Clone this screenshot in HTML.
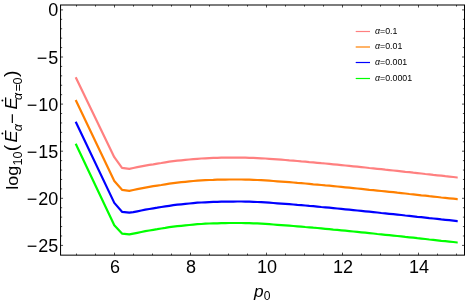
<!DOCTYPE html>
<html><head><meta charset="utf-8"><style>
html,body{margin:0;padding:0;background:#fff;}
svg{display:block;}
text{font-family:"Liberation Sans",sans-serif;fill:#000;}
.tk{font-size:18px;}
.lg{font-size:8.8px;}
.ax{font-size:17.3px;}
.sub{font-size:12.1px;}
.par{font-size:18.6px;}
</style></head><body>
<svg width="465" height="302" viewBox="0 0 465 302">
<defs><filter id="gr" x="0" y="0" width="100%" height="100%" filterUnits="userSpaceOnUse" color-interpolation-filters="sRGB"><feColorMatrix type="saturate" values="0"/></filter></defs>
<rect width="465" height="302" fill="#fff"/>
<polyline points="75.7,77.2 114.3,157.2 122.0,167.8 129.3,168.8 133.3,168.0 137.3,167.2 141.3,166.4 145.3,165.6 149.3,164.9 153.3,164.3 157.3,163.6 161.3,163.0 165.3,162.3 169.3,161.7 173.3,161.2 177.3,160.7 181.3,160.3 185.3,159.9 189.3,159.5 193.3,159.1 197.3,158.8 201.3,158.5 205.3,158.3 209.3,158.1 213.3,157.9 217.3,157.8 221.3,157.7 225.3,157.7 229.3,157.6 233.3,157.6 237.3,157.6 241.3,157.6 245.3,157.7 249.3,157.8 253.3,157.9 257.3,158.1 261.3,158.3 265.3,158.5 269.3,158.8 273.3,159.1 277.3,159.4 281.3,159.7 285.3,160.0 289.3,160.4 293.3,160.7 297.3,161.0 301.3,161.4 305.3,161.7 309.3,162.1 313.3,162.4 317.3,162.8 321.3,163.2 325.3,163.5 329.3,163.9 333.3,164.3 337.3,164.7 341.3,165.1 345.3,165.5 349.3,165.9 353.3,166.3 357.3,166.7 361.3,167.1 365.3,167.5 369.3,168.0 373.3,168.4 377.3,168.8 381.3,169.2 385.3,169.7 389.3,170.1 393.3,170.5 397.3,170.9 401.3,171.3 405.3,171.8 409.3,172.2 413.3,172.7 417.3,173.1 421.3,173.5 425.3,174.0 429.3,174.4 433.3,174.9 437.3,175.3 441.3,175.7 445.3,176.2 449.3,176.6 453.3,177.0 457.3,177.5 457.7,177.5" fill="none" stroke="#FF8080" stroke-width="2.2" stroke-linejoin="round"/>
<polyline points="75.7,100.0 114.3,181.0 122.0,189.8 129.3,190.8 133.3,190.0 137.3,189.2 141.3,188.4 145.3,187.6 149.3,186.9 153.3,186.2 157.3,185.6 161.3,185.0 165.3,184.3 169.3,183.7 173.3,183.1 177.3,182.6 181.3,182.2 185.3,181.8 189.3,181.4 193.3,181.0 197.3,180.7 201.3,180.4 205.3,180.2 209.3,180.0 213.3,179.9 217.3,179.7 221.3,179.6 225.3,179.6 229.3,179.5 233.3,179.5 237.3,179.5 241.3,179.5 245.3,179.6 249.3,179.7 253.3,179.8 257.3,180.0 261.3,180.1 265.3,180.4 269.3,180.7 273.3,181.0 277.3,181.3 281.3,181.6 285.3,181.9 289.3,182.2 293.3,182.5 297.3,182.9 301.3,183.2 305.3,183.5 309.3,183.9 313.3,184.3 317.3,184.6 321.3,185.0 325.3,185.4 329.3,185.7 333.3,186.1 337.3,186.5 341.3,186.9 345.3,187.3 349.3,187.7 353.3,188.1 357.3,188.5 361.3,188.9 365.3,189.3 369.3,189.8 373.3,190.2 377.3,190.6 381.3,191.0 385.3,191.4 389.3,191.8 393.3,192.2 397.3,192.7 401.3,193.1 405.3,193.5 409.3,194.0 413.3,194.4 417.3,194.8 421.3,195.3 425.3,195.7 429.3,196.2 433.3,196.6 437.3,197.0 441.3,197.5 445.3,197.9 449.3,198.3 453.3,198.7 457.3,199.2 457.7,199.2" fill="none" stroke="#FF8000" stroke-width="2.2" stroke-linejoin="round"/>
<polyline points="75.7,121.7 114.3,202.9 122.0,211.8 129.3,212.7 133.3,212.1 137.3,211.3 141.3,210.5 145.3,209.7 149.3,209.0 153.3,208.3 157.3,207.7 161.3,207.0 165.3,206.4 169.3,205.8 173.3,205.2 177.3,204.7 181.3,204.3 185.3,203.9 189.3,203.5 193.3,203.1 197.3,202.7 201.3,202.5 205.3,202.3 209.3,202.1 213.3,201.9 217.3,201.8 221.3,201.7 225.3,201.6 229.3,201.6 233.3,201.6 237.3,201.5 241.3,201.5 245.3,201.6 249.3,201.7 253.3,201.8 257.3,202.0 261.3,202.2 265.3,202.4 269.3,202.7 273.3,203.0 277.3,203.3 281.3,203.6 285.3,203.9 289.3,204.2 293.3,204.5 297.3,204.9 301.3,205.2 305.3,205.5 309.3,205.9 313.3,206.2 317.3,206.6 321.3,207.0 325.3,207.3 329.3,207.7 333.3,208.1 337.3,208.5 341.3,208.9 345.3,209.3 349.3,209.7 353.3,210.1 357.3,210.5 361.3,210.9 365.3,211.3 369.3,211.7 373.3,212.1 377.3,212.5 381.3,213.0 385.3,213.4 389.3,213.8 393.3,214.2 397.3,214.6 401.3,215.0 405.3,215.5 409.3,215.9 413.3,216.3 417.3,216.8 421.3,217.2 425.3,217.6 429.3,218.1 433.3,218.5 437.3,218.9 441.3,219.4 445.3,219.8 449.3,220.2 453.3,220.6 457.3,221.1 457.7,221.1" fill="none" stroke="#0000FF" stroke-width="2.2" stroke-linejoin="round"/>
<polyline points="75.7,143.7 114.3,225.3 122.0,233.6 129.3,234.4 133.3,233.6 137.3,232.8 141.3,232.0 145.3,231.2 149.3,230.5 153.3,229.8 157.3,229.2 161.3,228.5 165.3,227.9 169.3,227.2 173.3,226.7 177.3,226.2 181.3,225.8 185.3,225.4 189.3,225.0 193.3,224.6 197.3,224.2 201.3,224.0 205.3,223.7 209.3,223.5 213.3,223.4 217.3,223.3 221.3,223.1 225.3,223.1 229.3,223.0 233.3,223.0 237.3,223.0 241.3,223.0 245.3,223.1 249.3,223.2 253.3,223.3 257.3,223.4 261.3,223.6 265.3,223.9 269.3,224.2 273.3,224.5 277.3,224.8 281.3,225.1 285.3,225.4 289.3,225.7 293.3,226.0 297.3,226.3 301.3,226.6 305.3,227.0 309.3,227.3 313.3,227.7 317.3,228.0 321.3,228.4 325.3,228.8 329.3,229.2 333.3,229.6 337.3,229.9 341.3,230.3 345.3,230.7 349.3,231.1 353.3,231.5 357.3,231.9 361.3,232.3 365.3,232.7 369.3,233.1 373.3,233.5 377.3,234.0 381.3,234.4 385.3,234.8 389.3,235.2 393.3,235.6 397.3,236.0 401.3,236.4 405.3,236.9 409.3,237.3 413.3,237.7 417.3,238.2 421.3,238.6 425.3,239.0 429.3,239.5 433.3,239.9 437.3,240.3 441.3,240.8 445.3,241.2 449.3,241.6 453.3,242.0 457.3,242.5 457.7,242.5" fill="none" stroke="#00FF00" stroke-width="2.2" stroke-linejoin="round"/>

<g stroke="#000" stroke-width="1.02" fill="none">
<rect x="60.55" y="5.0" width="403.95" height="250.15"/>
</g>
<g stroke="#000" stroke-width="0.7"><line x1="60.55" y1="9.90" x2="63.05" y2="9.90"/><line x1="464.5" y1="9.90" x2="462.0" y2="9.90"/><line x1="60.55" y1="19.32" x2="62.15" y2="19.32"/><line x1="464.5" y1="19.32" x2="462.9" y2="19.32"/><line x1="60.55" y1="28.74" x2="62.15" y2="28.74"/><line x1="464.5" y1="28.74" x2="462.9" y2="28.74"/><line x1="60.55" y1="38.16" x2="62.15" y2="38.16"/><line x1="464.5" y1="38.16" x2="462.9" y2="38.16"/><line x1="60.55" y1="47.58" x2="62.15" y2="47.58"/><line x1="464.5" y1="47.58" x2="462.9" y2="47.58"/><line x1="60.55" y1="57.00" x2="63.05" y2="57.00"/><line x1="464.5" y1="57.00" x2="462.0" y2="57.00"/><line x1="60.55" y1="66.42" x2="62.15" y2="66.42"/><line x1="464.5" y1="66.42" x2="462.9" y2="66.42"/><line x1="60.55" y1="75.84" x2="62.15" y2="75.84"/><line x1="464.5" y1="75.84" x2="462.9" y2="75.84"/><line x1="60.55" y1="85.26" x2="62.15" y2="85.26"/><line x1="464.5" y1="85.26" x2="462.9" y2="85.26"/><line x1="60.55" y1="94.68" x2="62.15" y2="94.68"/><line x1="464.5" y1="94.68" x2="462.9" y2="94.68"/><line x1="60.55" y1="104.10" x2="63.05" y2="104.10"/><line x1="464.5" y1="104.10" x2="462.0" y2="104.10"/><line x1="60.55" y1="113.52" x2="62.15" y2="113.52"/><line x1="464.5" y1="113.52" x2="462.9" y2="113.52"/><line x1="60.55" y1="122.94" x2="62.15" y2="122.94"/><line x1="464.5" y1="122.94" x2="462.9" y2="122.94"/><line x1="60.55" y1="132.36" x2="62.15" y2="132.36"/><line x1="464.5" y1="132.36" x2="462.9" y2="132.36"/><line x1="60.55" y1="141.78" x2="62.15" y2="141.78"/><line x1="464.5" y1="141.78" x2="462.9" y2="141.78"/><line x1="60.55" y1="151.20" x2="63.05" y2="151.20"/><line x1="464.5" y1="151.20" x2="462.0" y2="151.20"/><line x1="60.55" y1="160.62" x2="62.15" y2="160.62"/><line x1="464.5" y1="160.62" x2="462.9" y2="160.62"/><line x1="60.55" y1="170.04" x2="62.15" y2="170.04"/><line x1="464.5" y1="170.04" x2="462.9" y2="170.04"/><line x1="60.55" y1="179.46" x2="62.15" y2="179.46"/><line x1="464.5" y1="179.46" x2="462.9" y2="179.46"/><line x1="60.55" y1="188.88" x2="62.15" y2="188.88"/><line x1="464.5" y1="188.88" x2="462.9" y2="188.88"/><line x1="60.55" y1="198.30" x2="63.05" y2="198.30"/><line x1="464.5" y1="198.30" x2="462.0" y2="198.30"/><line x1="60.55" y1="207.72" x2="62.15" y2="207.72"/><line x1="464.5" y1="207.72" x2="462.9" y2="207.72"/><line x1="60.55" y1="217.14" x2="62.15" y2="217.14"/><line x1="464.5" y1="217.14" x2="462.9" y2="217.14"/><line x1="60.55" y1="226.56" x2="62.15" y2="226.56"/><line x1="464.5" y1="226.56" x2="462.9" y2="226.56"/><line x1="60.55" y1="235.98" x2="62.15" y2="235.98"/><line x1="464.5" y1="235.98" x2="462.9" y2="235.98"/><line x1="60.55" y1="245.40" x2="63.05" y2="245.40"/><line x1="464.5" y1="245.40" x2="462.0" y2="245.40"/><line x1="76.50" y1="255.15" x2="76.50" y2="253.55"/><line x1="76.50" y1="5.0" x2="76.50" y2="6.6"/><line x1="95.50" y1="255.15" x2="95.50" y2="253.55"/><line x1="95.50" y1="5.0" x2="95.50" y2="6.6"/><line x1="114.50" y1="255.15" x2="114.50" y2="252.65"/><line x1="114.50" y1="5.0" x2="114.50" y2="7.5"/><line x1="133.50" y1="255.15" x2="133.50" y2="253.55"/><line x1="133.50" y1="5.0" x2="133.50" y2="6.6"/><line x1="152.50" y1="255.15" x2="152.50" y2="253.55"/><line x1="152.50" y1="5.0" x2="152.50" y2="6.6"/><line x1="171.50" y1="255.15" x2="171.50" y2="253.55"/><line x1="171.50" y1="5.0" x2="171.50" y2="6.6"/><line x1="190.50" y1="255.15" x2="190.50" y2="252.65"/><line x1="190.50" y1="5.0" x2="190.50" y2="7.5"/><line x1="209.50" y1="255.15" x2="209.50" y2="253.55"/><line x1="209.50" y1="5.0" x2="209.50" y2="6.6"/><line x1="228.50" y1="255.15" x2="228.50" y2="253.55"/><line x1="228.50" y1="5.0" x2="228.50" y2="6.6"/><line x1="247.50" y1="255.15" x2="247.50" y2="253.55"/><line x1="247.50" y1="5.0" x2="247.50" y2="6.6"/><line x1="266.50" y1="255.15" x2="266.50" y2="252.65"/><line x1="266.50" y1="5.0" x2="266.50" y2="7.5"/><line x1="285.50" y1="255.15" x2="285.50" y2="253.55"/><line x1="285.50" y1="5.0" x2="285.50" y2="6.6"/><line x1="304.50" y1="255.15" x2="304.50" y2="253.55"/><line x1="304.50" y1="5.0" x2="304.50" y2="6.6"/><line x1="323.50" y1="255.15" x2="323.50" y2="253.55"/><line x1="323.50" y1="5.0" x2="323.50" y2="6.6"/><line x1="342.50" y1="255.15" x2="342.50" y2="252.65"/><line x1="342.50" y1="5.0" x2="342.50" y2="7.5"/><line x1="361.50" y1="255.15" x2="361.50" y2="253.55"/><line x1="361.50" y1="5.0" x2="361.50" y2="6.6"/><line x1="380.50" y1="255.15" x2="380.50" y2="253.55"/><line x1="380.50" y1="5.0" x2="380.50" y2="6.6"/><line x1="399.50" y1="255.15" x2="399.50" y2="253.55"/><line x1="399.50" y1="5.0" x2="399.50" y2="6.6"/><line x1="418.50" y1="255.15" x2="418.50" y2="252.65"/><line x1="418.50" y1="5.0" x2="418.50" y2="7.5"/><line x1="437.50" y1="255.15" x2="437.50" y2="253.55"/><line x1="437.50" y1="5.0" x2="437.50" y2="6.6"/><line x1="456.50" y1="255.15" x2="456.50" y2="253.55"/><line x1="456.50" y1="5.0" x2="456.50" y2="6.6"/></g>
<line x1="355.7" y1="31.5" x2="370" y2="31.5" stroke="#FF8080" stroke-width="1.2"/><line x1="355.7" y1="47.0" x2="370" y2="47.0" stroke="#FF8000" stroke-width="1.2"/><line x1="355.7" y1="62.5" x2="370" y2="62.5" stroke="#0000FF" stroke-width="1.2"/><line x1="355.7" y1="78.5" x2="370" y2="78.5" stroke="#00FF00" stroke-width="1.2"/>
<g filter="url(#gr)">
<text x="58.2" y="16.4" text-anchor="end" class="tk">0</text><text x="58.2" y="63.5" text-anchor="end" class="tk">−<tspan dx="0.9">5</tspan></text><text x="58.2" y="110.6" text-anchor="end" class="tk">−<tspan dx="0.9">10</tspan></text><text x="58.2" y="157.7" text-anchor="end" class="tk">−<tspan dx="0.9">15</tspan></text><text x="58.2" y="204.8" text-anchor="end" class="tk">−<tspan dx="0.9">20</tspan></text><text x="58.2" y="251.9" text-anchor="end" class="tk">−<tspan dx="0.9">25</tspan></text><text x="114.9" y="273.4" text-anchor="middle" class="tk">6</text><text x="190.9" y="273.4" text-anchor="middle" class="tk">8</text><text x="266.9" y="273.4" text-anchor="middle" class="tk">10</text><text x="342.9" y="273.4" text-anchor="middle" class="tk">12</text><text x="418.9" y="273.4" text-anchor="middle" class="tk">14</text>
<text x="375" y="33.8" class="lg"><tspan font-style="italic">α</tspan>=0.1</text><text x="375" y="49.4" class="lg"><tspan font-style="italic">α</tspan>=0.01</text><text x="375" y="65.0" class="lg"><tspan font-style="italic">α</tspan>=0.001</text><text x="375" y="80.6" class="lg"><tspan font-style="italic">α</tspan>=0.0001</text>
<text class="ax" x="254" y="296.6"><tspan font-style="italic">p</tspan><tspan class="sub" dy="3">0</tspan></text>
<g transform="translate(17.6,188.4) rotate(-90)"><text class="ax" transform="translate(-1.4,0) scale(1.045,1)">log</text><text class="sub" transform="translate(22.9,4.2) scale(1.045,1)">10</text><text class="par" transform="translate(37.2,-0.3) scale(1.045,1)">(</text><text class="ax" transform="translate(46.0,-0.4) scale(1.045,1)" font-style="italic">E</text><text class="sub" transform="translate(57.2,4.2) scale(1.045,1)" font-style="italic">α</text><text class="ax" transform="translate(64.3,0) scale(1.045,1)">−</text><text class="ax" transform="translate(79.0,-0.4) scale(1.045,1)" font-style="italic">E</text><text class="sub" transform="translate(88.4,4.2) scale(1.045,1)" font-style="italic">α</text><text class="sub" transform="translate(97.2,4.2) scale(1.045,1)">=</text><text class="sub" transform="translate(103.8,4.2) scale(1.045,1)">0</text><text class="par" transform="translate(111.5,-0.3) scale(1.045,1)">)</text><circle cx="54.9" cy="-15.2" r="0.95"/><circle cx="87.9" cy="-15.2" r="0.95"/></g>
</g>
</svg>
</body></html>
